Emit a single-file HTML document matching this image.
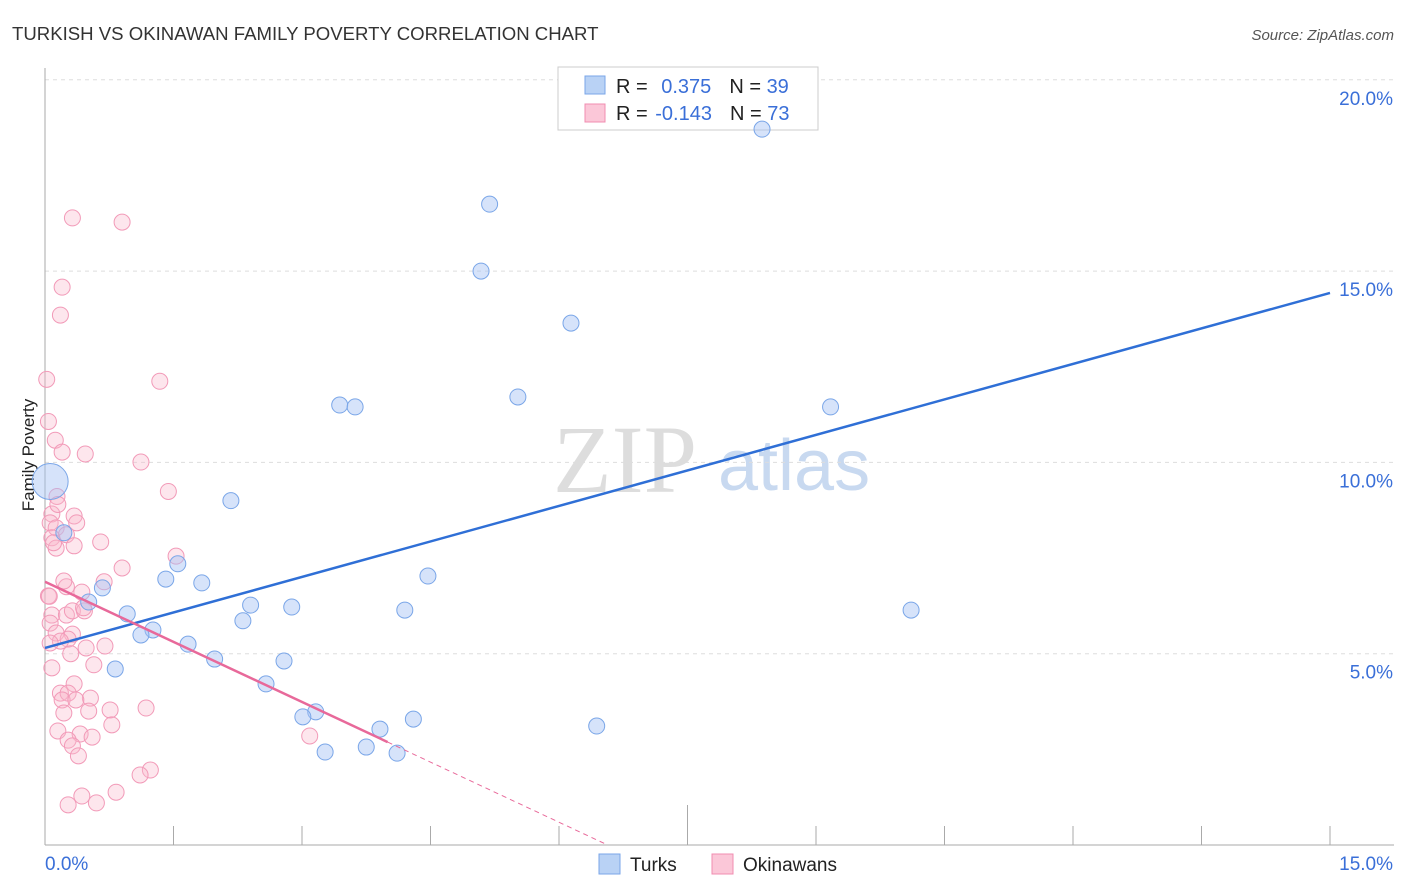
<!DOCTYPE html>
<html><head><meta charset="utf-8"><style>
body{margin:0;background:#fff;font-family:"Liberation Sans",sans-serif}
svg{display:block}
</style></head><body>
<svg id="chart" width="1406" height="892">
<text x="12" y="40" font-size="18.6" fill="#333">TURKISH VS OKINAWAN FAMILY POVERTY CORRELATION CHART</text>
<text x="1394" y="40" font-size="15" fill="#555" text-anchor="end" font-style="italic">Source: ZipAtlas.com</text>
<text x="34" y="455" font-size="17" fill="#222" transform="rotate(-90 34 455)" text-anchor="middle">Family Poverty</text>
<text x="553" y="492" font-size="96" fill="#ddd" font-family="Liberation Serif">ZIP</text>
<text x="718" y="490" font-size="72" fill="#c8d9f0">atlas</text>
<g id="grid"></g><g id="axes"></g>
<g>
<rect x="558" y="67" width="260" height="63" fill="#fff" stroke="#ccc"/>
<rect x="585" y="76" width="20" height="18" fill="#b9d2f5" stroke="#7aa6e8"/>
<rect x="585" y="104" width="20" height="18" fill="#fbc7d8" stroke="#f08cb0"/>
<text x="616" y="93" font-size="20" fill="#222">R = <tspan fill="#3a6fd8" dx="8">0.375</tspan><tspan dx="18" fill="#222">N = </tspan><tspan fill="#3a6fd8">39</tspan></text>
<text x="616" y="120" font-size="20" fill="#222">R = <tspan fill="#3a6fd8" dx="2">-0.143</tspan><tspan dx="18" fill="#222">N = </tspan><tspan fill="#3a6fd8">73</tspan></text>
</g>
<g id="pts"></g><g id="trend"></g>
<g>
<rect x="599" y="854" width="21" height="20" fill="#b9d2f5" stroke="#7aa6e8"/>
<text x="630" y="871" font-size="19" fill="#222">Turks</text>
<rect x="712" y="854" width="21" height="20" fill="#fbc7d8" stroke="#f08cb0"/>
<text x="743" y="871" font-size="19" fill="#222">Okinawans</text>
</g>
</svg>
<script>
const yTicks=[5,10,15,20];
const yTickLabels=["5.0%","10.0%","15.0%","20.0%"];
const xTickLabels=["0.0%","15.0%"];
const turksX=[8.37,5.19,5.09,6.14,5.52,3.44,3.62,9.17,2.17,0.22,1.55,1.41,1.83,4.47,0.67,0.51,2.40,2.88,4.20,10.11,0.96,2.31,1.26,1.12,1.67,1.98,2.79,0.82,2.58,3.16,3.01,4.30,6.44,3.91,3.75,3.27,4.11,0.06];
const turksY=[18.71,16.75,15.00,13.64,11.71,11.50,11.45,11.45,9.0,8.16,7.35,6.95,6.85,7.03,6.72,6.35,6.27,6.22,6.14,6.14,6.04,5.86,5.62,5.49,5.25,4.86,4.81,4.60,4.21,3.48,3.35,3.29,3.11,3.03,2.56,2.43,2.40,9.5];
const okiX=[0.32,0.90,0.20,0.18,0.02,1.34,0.04,0.12,0.20,0.47,1.12,0.14,1.44,0.08,0.34,0.37,0.06,0.13,0.25,0.08,0.65,0.34,0.13,1.53,0.90,0.69,0.25,0.43,0.04,0.08,0.25,0.32,0.46,0.06,0.13,0.32,0.27,0.18,0.06,0.48,0.08,0.57,0.34,0.18,0.27,0.53,0.20,0.36,0.22,0.51,0.76,1.18,0.78,0.15,0.41,0.55,0.27,0.32,0.39,3.09,1.23,1.11,0.43,0.83,0.60,0.27,0.15,0.45,0.05,0.70,0.30,0.22,0.10];
const okiY=[16.39,16.28,14.58,13.85,12.17,12.12,11.07,10.58,10.27,10.22,10.01,9.11,9.24,8.65,8.60,8.42,8.42,8.29,8.11,8.03,7.92,7.82,7.76,7.55,7.24,6.88,6.75,6.61,6.51,6.01,6.01,6.12,6.12,5.80,5.54,5.51,5.38,5.33,5.28,5.15,4.63,4.71,4.21,3.97,3.97,3.84,3.79,3.79,3.45,3.50,3.53,3.58,3.14,2.98,2.90,2.82,2.74,2.59,2.33,2.85,1.96,1.83,1.28,1.38,1.10,1.05,8.9,6.2,6.5,5.2,5.0,6.9,7.9];
const turksFit=[5.15,14.43];
const okiFit=[6.88,2.69];
const X0=45,X1=1330,Y0=845,YPX=38.26;
const xs=v=>X0+(X1-X0)*v/15, ys=v=>Y0-v*YPX;
const NS="http://www.w3.org/2000/svg";
function mk(t,a,p){const e=document.createElementNS(NS,t);for(const k in a)e.setAttribute(k,a[k]);document.getElementById(p).appendChild(e);return e;}
yTicks.forEach((v,i)=>{
 const g=mk('line',{x1:X0,x2:1394,y1:ys(v),y2:ys(v),stroke:'#ddd','stroke-dasharray':'4,4'},'grid');
 
 
 const t=mk('text',{x:1393,y:ys(v)+25,'font-size':19,fill:'#3a6fd8','text-anchor':'end'},'axes');t.textContent=yTickLabels[i];
 
 
});
const ax=mk('line',{x1:X0,x2:1394,y1:Y0,y2:Y0,stroke:'#aaa'},'axes');


const ay=mk('line',{x1:X0,x2:X0,y1:68,y2:Y0,stroke:'#aaa'},'axes');


for(let i=1;i<=10;i++){const tk=mk('line',{x1:xs(i*1.5),x2:xs(i*1.5),y1:(i==5)?805:826,y2:Y0,stroke:'#aaa'},'axes');
 
 }
[[0,45,'start'],[15,1393,'end']].forEach((d,i)=>{const t=mk('text',{x:d[1],y:870,'font-size':19,fill:'#3a6fd8','text-anchor':d[2]},'axes');t.textContent=xTickLabels[i];
 
 });
okiX.forEach((x,i)=>{const c=mk('circle',{cx:xs(x),cy:ys(okiY[i]),r:8,fill:'rgba(248,182,204,0.35)',stroke:'#f29ab8','stroke-width':1},'pts');
 
 });
turksX.forEach((x,i)=>{const big=i==turksX.length-1;const c=mk('circle',{cx:xs(x),cy:ys(turksY[i]),r:big?18:8,fill:'rgba(164,194,244,0.45)',stroke:'#7aa6e8','stroke-width':1},'pts');
 
 });
const tl=mk('line',{x1:xs(0),y1:ys(turksFit[0]),x2:xs(15),y2:ys(turksFit[1]),stroke:'#2f6fd6','stroke-width':2.5},'trend');


const sl=(okiFit[1]-okiFit[0])/4;
const ol=mk('line',{x1:xs(0),y1:ys(okiFit[0]),x2:xs(4),y2:ys(okiFit[1]),stroke:'#e8699a','stroke-width':2.5},'trend');


const xe=-okiFit[0]/sl;
const od=mk('line',{x1:xs(4),y1:ys(okiFit[1]),x2:xs(xe),y2:ys(0),stroke:'#e8699a','stroke-width':1,'stroke-dasharray':'5,4'},'trend');


</script>
</body></html>
